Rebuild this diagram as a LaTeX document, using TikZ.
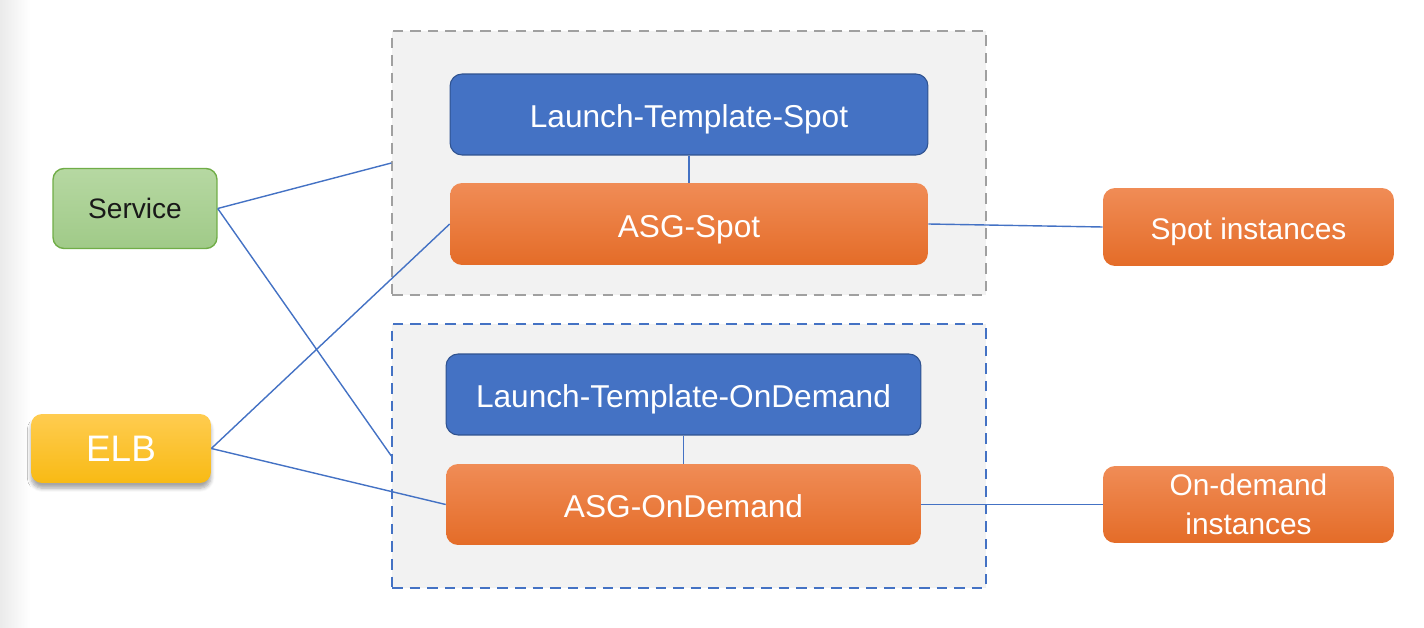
\documentclass[tikz,border=0pt]{standalone}
\usepackage{fontspec}
\setmainfont{Liberation Sans}
\usetikzlibrary{positioning, shadows.blur}
\definecolor{PanelGrey}{RGB}{242, 242, 242}
\definecolor{DashGrey}{RGB}{160, 160, 160}
\definecolor{LinkBlue}{RGB}{68, 114, 196}
\definecolor{TplBlue}{RGB}{68, 114, 196}
\definecolor{TplEdge}{RGB}{47, 82, 143}
\definecolor{OrangeTop}{RGB}{240, 140, 86}
\definecolor{OrangeBot}{RGB}{228, 108, 40}
\definecolor{GreenTop}{RGB}{182, 216, 162}
\definecolor{GreenBot}{RGB}{160, 202, 136}
\definecolor{GreenEdge}{RGB}{112, 173, 71}
\definecolor{GoldTop}{RGB}{255, 204, 80}
\definecolor{GoldBot}{RGB}{248, 186, 20}

\begin{document}
\begin{tikzpicture}[x=0.02cm, y=-0.02cm,
    panel/.style={draw, dashed, dash pattern=on 6pt off 4pt, line width=0.8pt, fill=PanelGrey, minimum width=11.88cm, minimum height=5.28cm},
    capbox/.style={text height=15pt, text depth=0pt},
    tpl/.style={draw=TplEdge, line width=0.6pt, fill=TplBlue, rounded corners=0.24cm, text=white, font=\fontsize{18}{21}\selectfont, minimum width=9.56cm, minimum height=1.62cm, capbox},
    asg/.style={top color=OrangeTop, bottom color=OrangeBot, draw=none, rounded corners=0.24cm, text=white, font=\fontsize{18}{21}\selectfont, minimum width=9.56cm, minimum height=1.64cm},
    link/.style={LinkBlue, line width=0.8pt}]
    \useasboundingbox (0,0) rectangle (1424,628);

    % Sombra del borde izquierdo
    \shade[left color=black!8, right color=white, draw=none] (0,0) rectangle (30,628);

    % Contenedores
    \node[panel, draw=DashGrey] (contSpot) at (689,163) {};
    \node[panel, draw=LinkBlue] (contOD) at (689,456) {};

    % Launch templates y ASG
    \node[tpl] (ltSpot) at (689,114.5) {Launch-Template-Spot};
    \node[asg, capbox] (asgSpot) at (689,224) {ASG-Spot};
    \node[tpl, minimum width=9.5cm] (ltOD) at (683.5,394.5) {Launch-Template-OnDemand};
    \node[asg, capbox, minimum width=9.5cm, minimum height=1.62cm] (asgOD) at (683.5,504.5) {ASG-OnDemand};

    % Service y ELB
    \node[draw=GreenEdge, line width=0.8pt, top color=GreenTop, bottom color=GreenBot, rounded corners=0.22cm, text=black!90, font=\fontsize{16}{19}\selectfont, minimum width=3.28cm, minimum height=1.6cm] (service) at (135,208.5) {Service};
    \node[top color=GoldTop, bottom color=GoldBot, draw=none, rounded corners=0.22cm, text=white, font=\fontsize{21}{24}\selectfont, minimum width=3.6cm, minimum height=1.38cm, blur shadow={shadow xshift=0pt, shadow yshift=-3pt, shadow blur steps=6, shadow opacity=35}] (elb) at (121,448.5) {ELB};

    % Instancias
    \node[asg, capbox, text height=14pt, minimum width=5.82cm, minimum height=1.56cm, font=\fontsize{17}{20}\selectfont] (spotInst) at (1248.5,227) {Spot instances};
    \node[asg, minimum width=5.82cm, minimum height=1.54cm, font=\fontsize{17}{22}\selectfont, align=center] (odInst) at (1248.5,504.5) {On-demand\\instances};

    % Conexiones
    \draw[link] (ltSpot) -- (asgSpot);
    \draw[link] (ltOD) -- (asgOD);
    \draw[link] (service.east) -- (contSpot.west);
    \draw[link] (service.east) -- (contOD.west);
    \draw[link] (elb.east) -- (asgSpot.west);
    \draw[link] (elb.east) -- (asgOD.west);
    \draw[link] (asgSpot.east) -- (spotInst.west);
    \draw[link] (asgOD.east) -- (odInst.west);
\end{tikzpicture}
\end{document}
